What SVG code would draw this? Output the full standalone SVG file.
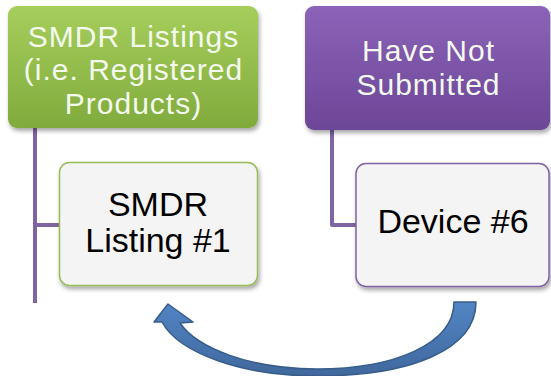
<svg xmlns="http://www.w3.org/2000/svg" width="551" height="376" viewBox="0 0 551 376">
<defs>
<linearGradient id="gGreen" x1="0" y1="0" x2="0" y2="1">
<stop offset="0" stop-color="#a6ce5c"/>
<stop offset="1" stop-color="#80ab3c"/>
</linearGradient>
<linearGradient id="gPurple" x1="0" y1="0" x2="0" y2="1">
<stop offset="0" stop-color="#8b63b8"/>
<stop offset="1" stop-color="#6c4697"/>
</linearGradient>
<linearGradient id="gArrow" x1="0" y1="0" x2="0" y2="1">
<stop offset="0" stop-color="#5285c4"/>
<stop offset="1" stop-color="#40689e"/>
</linearGradient>
<filter id="sh" x="-10%" y="-10%" width="125%" height="130%">
<feDropShadow dx="1.5" dy="3" stdDeviation="2" flood-color="#000" flood-opacity="0.35"/>
</filter>
</defs>
<style>
.head{font-family:"Liberation Sans",Arial,sans-serif;font-size:30px;letter-spacing:1px;text-anchor:middle;fill:#f4f9ee}
.child{font-family:"Liberation Sans",Arial,sans-serif;font-size:34px;text-anchor:middle;fill:#000}
.line{stroke:#8064a2;stroke-width:4;fill:none;stroke-linejoin:round}
</style>
<g id="connectors">
<path class="line" d="M35,128 V303 M35,225 H60"/>
<path class="line" d="M332,130 V225 H356"/>
<path id="curved-arrow" d="M454,302 L476,302 C476,350 410,376 317,376 C240,376 178,352 162,322 L154,322 L168,304 L193,322 L180,323 C197,348 250,369 317,369 C392,369 454,345 454,302 Z" fill="url(#gArrow)" stroke="#385d8a" stroke-width="1.5" stroke-linejoin="round"/>
</g>
<g id="smdr-listings">
<rect x="8" y="6" width="250" height="122" rx="9" fill="url(#gGreen)" filter="url(#sh)"/>
<text class="head" x="133.5" y="46.5">SMDR Listings</text>
<text class="head" x="133.5" y="80">(i.e. Registered</text>
<text class="head" x="133.5" y="113.5">Products)</text>
</g>
<g id="have-not-submitted">
<rect x="305" y="6" width="245" height="124" rx="9" fill="url(#gPurple)" filter="url(#sh)"/>
<text class="head" x="428.5" y="61" fill="#fff">Have Not</text>
<text class="head" x="428.5" y="94.5">Submitted</text>
</g>
<g id="smdr-listing-1">
<rect x="59.5" y="162.5" width="198" height="123" rx="10" fill="#f4f4f4" stroke="#9bbb59" stroke-width="1.5" filter="url(#sh)"/>
<text class="child" x="158" y="216">SMDR</text>
<text class="child" x="158" y="252">Listing #1</text>
</g>
<g id="device-6">
<rect x="356" y="163.5" width="193" height="123" rx="10" fill="#f4f4f4" stroke="#8064a2" stroke-width="1.5" filter="url(#sh)"/>
<text class="child" x="453" y="233">Device #6</text>
</g>
</svg>
